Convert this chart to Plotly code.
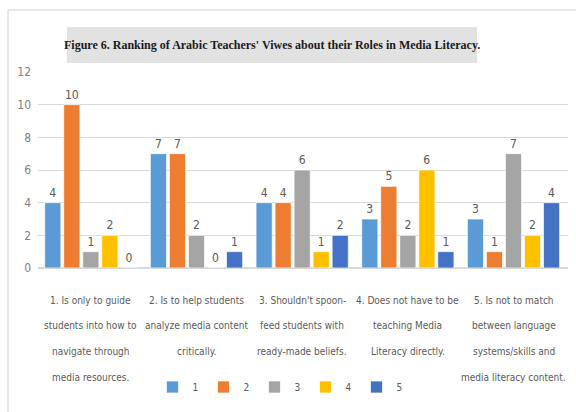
import plotly.graph_objects as go

categories = [
    "1. Is only to guide<br>students into how to<br>navigate through<br>media resources.",
    "2. Is to help students<br>analyze media content<br>critically.",
    "3. Shouldn't spoon-<br>feed students with<br>ready-made beliefs.",
    "4. Does not have to be<br>teaching Media<br>Literacy directly.",
    "5. Is not to match<br>between language<br>systems/skills and<br>media literacy content.",
]
series_names = ["1", "2", "3", "4", "5"]
rank1 = [4, 7, 4, 3, 3]
rank2 = [10, 7, 4, 5, 1]
rank3 = [1, 2, 6, 2, 7]
rank4 = [2, 0, 1, 6, 2]
rank5 = [0, 1, 2, 1, 4]
colors = ["#5B9BD5", "#ED7D31", "#A5A5A5", "#FFC000", "#4472C4"]

title_text = "Figure 6. Ranking of Arabic Teachers' Viwes about their Roles in Media Literacy."

narrow = "DejaVu Sans Condensed, DejaVu Sans, sans-serif"

# plot area geometry in pixels (used to place paper-referenced decorations)
W, H = 576, 412
ML, MR, MT, MB = 38, 8, 72, 144
PW, PH = W - ML - MR, H - MT - MB


def px_x(x):
    return (x - ML) / PW


def px_y(y):
    return (H - MB - y) / PH


fig = go.Figure()
for name, vals, col in zip(series_names, [rank1, rank2, rank3, rank4, rank5], colors):
    fig.add_trace(go.Bar(
        x=categories, y=vals, name=name,
        marker=dict(color=col, line=dict(color="rgba(255,255,255,0.7)", width=1)),
        text=[str(v) for v in vals], textposition="outside",
        textfont=dict(family=narrow, size=12, color="#595959"),
        cliponaxis=False,
    ))

# multi-line category labels, one annotation per line for wider line spacing
annotations = []
for cat in categories:
    for i, line in enumerate(cat.split("<br>")):
        annotations.append(dict(
            text=line, x=cat, xref="x", y=px_y(300 + 25.7 * i), yref="paper",
            xanchor="center", yanchor="middle", showarrow=False,
            font=dict(family=narrow, size=10, color="#595959"),
        ))

annotations.append(dict(
    text="<b>" + title_text + "</b>", xref="paper", yref="paper",
    x=px_x(272), y=px_y(45), xanchor="center", yanchor="middle", showarrow=False,
    font=dict(family="Liberation Serif, Times New Roman, serif", size=12, color="#1A1A1A"),
))

fig.update_layout(
    width=W, height=H,
    margin=dict(l=ML, r=MR, t=MT, b=MB),
    paper_bgcolor="white", plot_bgcolor="white",
    barmode="group", bargap=0.1, bargroupgap=0.15,
    showlegend=True,
    legend=dict(orientation="h", x=px_x(280), xanchor="center", y=px_y(387), yanchor="middle",
                font=dict(family=narrow, size=10, color="#595959"),
                itemwidth=30, entrywidth=6, tracegroupgap=0),
    yaxis=dict(range=[0, 12], dtick=2, showgrid=True, gridcolor="#D9D9D9",
               zeroline=True, zerolinecolor="#D9D9D9", ticks="", ticklabelstandoff=6,
               tickfont=dict(family=narrow, size=12, color="#7F7F7F")),
    xaxis=dict(showline=False, ticks="", showticklabels=False),
    annotations=annotations,
    shapes=[
        dict(type="rect", xref="paper", yref="paper", layer="below",
             x0=px_x(67), x1=px_x(477), y0=px_y(63), y1=px_y(27),
             fillcolor="#E2E2E2", line=dict(width=0)),
        dict(type="rect", xref="paper", yref="paper",
             x0=px_x(8), x1=px_x(600), y0=px_y(440), y1=px_y(10),
             line=dict(color="#D0D0D0", width=1)),
    ],
)

fig.write_html("out.html")
